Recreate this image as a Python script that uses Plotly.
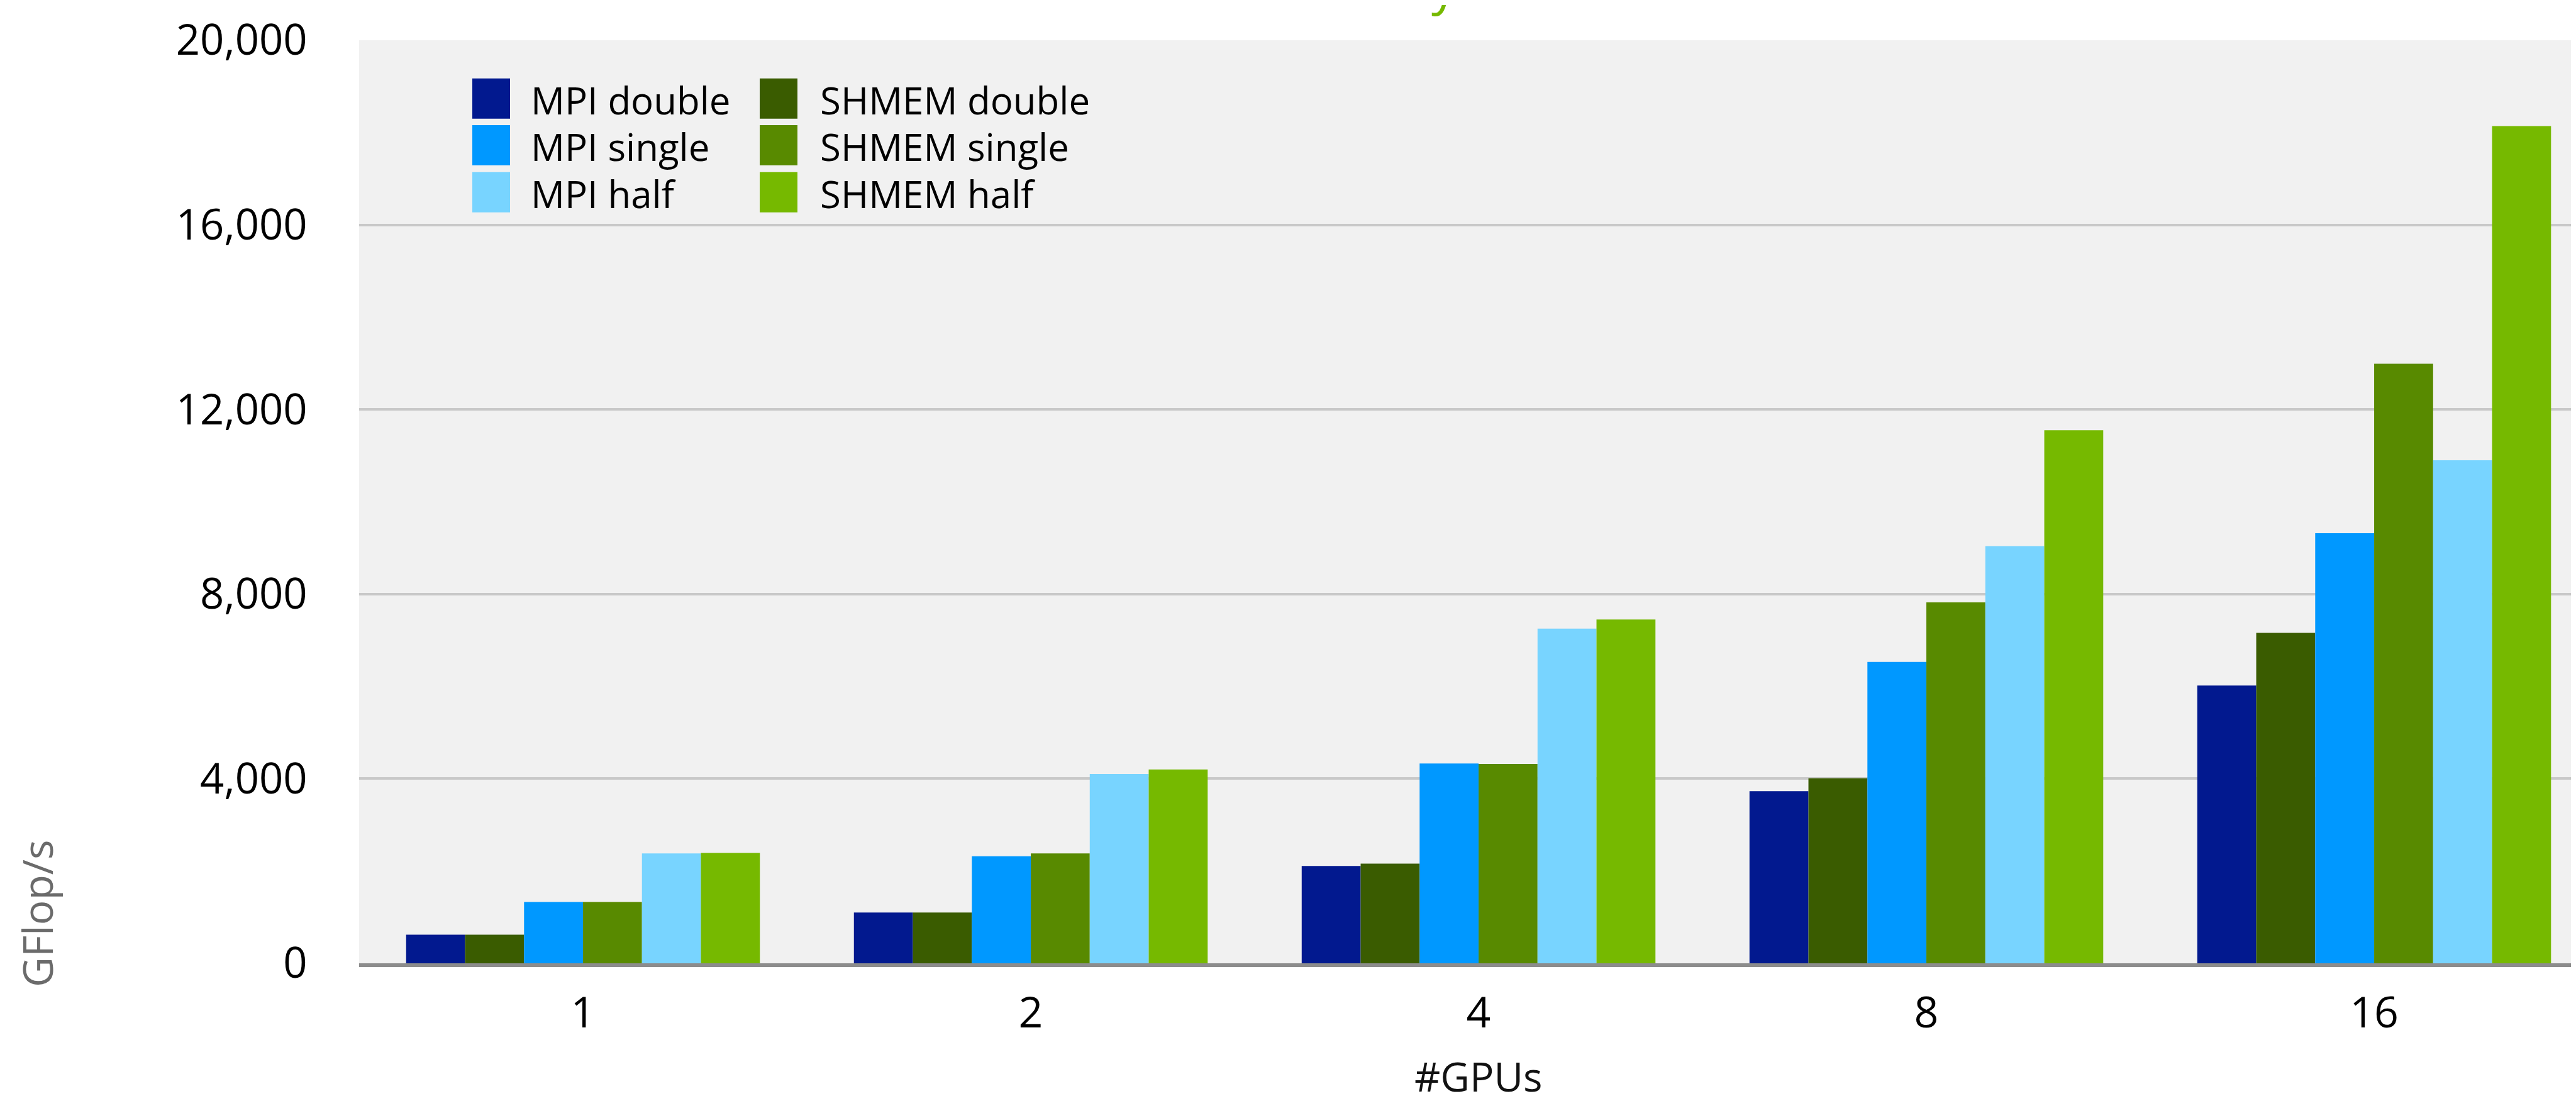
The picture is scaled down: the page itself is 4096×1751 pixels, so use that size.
import plotly.graph_objects as go

# ---------------- data ----------------
gpus = ["1", "2", "4", "8", "16"]
series_names = ["MPI double", "SHMEM double", "MPI single", "SHMEM single", "MPI half", "SHMEM half"]
mpi_double = [620, 1100, 2110, 3730, 6020]
shmem_double = [620, 1100, 2160, 4010, 7160]
mpi_single = [1330, 2320, 4330, 6530, 9320]
shmem_single = [1330, 2380, 4320, 7820, 12990]
mpi_half = [2380, 4100, 7250, 9040, 10900]
shmem_half = [2390, 4200, 7450, 11550, 18140]
y_ticks = [0, 4000, 8000, 12000, 16000, 20000]

series_values = [mpi_double, shmem_double, mpi_single, shmem_single, mpi_half, shmem_half]
colors = ["#02198f", "#3a5c00", "#0098ff", "#588a00", "#78d4ff", "#76b900"]

# ---------------- layout constants (output px) ----------------
W, H = 4096, 1751
ML, MR, MT, MB = 563, 0, 56, 227
PW = W - ML - MR
PH = H - MT - MB


def px_to_paper_x(px):
    return (px - ML) / PW


def px_to_paper_y(py):
    return (H - MB - py) / PH


FONT = "Open Sans, Liberation Sans, sans-serif"

fig = go.Figure()
for name, vals, col in zip(series_names, series_values, colors):
    fig.add_trace(go.Bar(
        x=gpus, y=vals, name=name,
        marker=dict(color=col, line=dict(width=0)),
        showlegend=False,
    ))

# ---------------- manual legend (two columns) ----------------
legend_order = [["MPI double", "MPI single", "MPI half"],
                ["SHMEM double", "SHMEM single", "SHMEM half"]]
col_swatch_x = [743, 1200]
col_text_x = [834, 1294]
row_center_y = [148.7, 223.0, 297.8]
sw_w, sw_h = 60, 64
shapes = []
annotations = []
for ci, column in enumerate(legend_order):
    for ri, nm in enumerate(column):
        col = colors[series_names.index(nm)]
        cy = row_center_y[ri]
        x0 = col_swatch_x[ci]
        shapes.append(dict(
            type="rect", xref="paper", yref="paper",
            x0=px_to_paper_x(x0), x1=px_to_paper_x(x0 + sw_w),
            y0=px_to_paper_y(cy + sw_h / 2), y1=px_to_paper_y(cy - sw_h / 2),
            fillcolor=col, line=dict(width=0), layer="above",
        ))
        annotations.append(dict(
            text=nm, xref="paper", yref="paper",
            x=px_to_paper_x(col_text_x[ci]), y=px_to_paper_y(cy + 2),
            xanchor="left", yanchor="middle", showarrow=False,
            font=dict(family=FONT, size=60, color="#000000"),
        ))

# axis titles
annotations.append(dict(
    text="#GPUs", xref="x", yref="paper", x=2, y=px_to_paper_y(1703),
    xanchor="center", yanchor="middle", showarrow=False,
    font=dict(family=FONT, size=64, color="#111111"),
))
annotations.append(dict(
    text="GFlop/s", xref="paper", yref="paper", x=px_to_paper_x(50), y=px_to_paper_y(1445),
    xanchor="center", yanchor="middle", showarrow=False, textangle=-90,
    font=dict(family="Liberation Sans Narrow, Open Sans, sans-serif", size=66, color="#6b6b6b"),
))
# clipped green title descender visible at the top edge
annotations.append(dict(
    text="y", xref="paper", yref="paper", x=px_to_paper_x(2288), y=px_to_paper_y(24),
    xanchor="center", yanchor="bottom", showarrow=False,
    font=dict(family=FONT, size=80, color="#76b900"),
))

fig.update_layout(
    width=W, height=H,
    margin=dict(l=ML, r=MR, t=MT, b=MB, pad=0),
    paper_bgcolor="#ffffff",
    plot_bgcolor="#f1f1f1",
    barmode="group",
    bargap=0.21,
    bargroupgap=0,
    showlegend=False,
    shapes=shapes,
    annotations=annotations,
    xaxis=dict(
        type="category",
        range=[-0.5, 4.462],
        showgrid=False,
        showline=True, linecolor="#8c8c8c", linewidth=6,
        ticks="outside", ticklen=14, tickcolor="rgba(0,0,0,0)",
        tickfont=dict(family=FONT, size=68, color="#000000"),
        zeroline=False,
    ),
    yaxis=dict(
        range=[0, 20000],
        tickvals=y_ticks,
        tickformat=",d",
        showgrid=True, gridcolor="#c8c8c8", gridwidth=3.5,
        zeroline=False, showline=False,
        ticks="outside", ticklen=68, tickcolor="rgba(0,0,0,0)",
        tickfont=dict(family=FONT, size=67, color="#000000"),
    ),
)

fig.write_html("out.html")
